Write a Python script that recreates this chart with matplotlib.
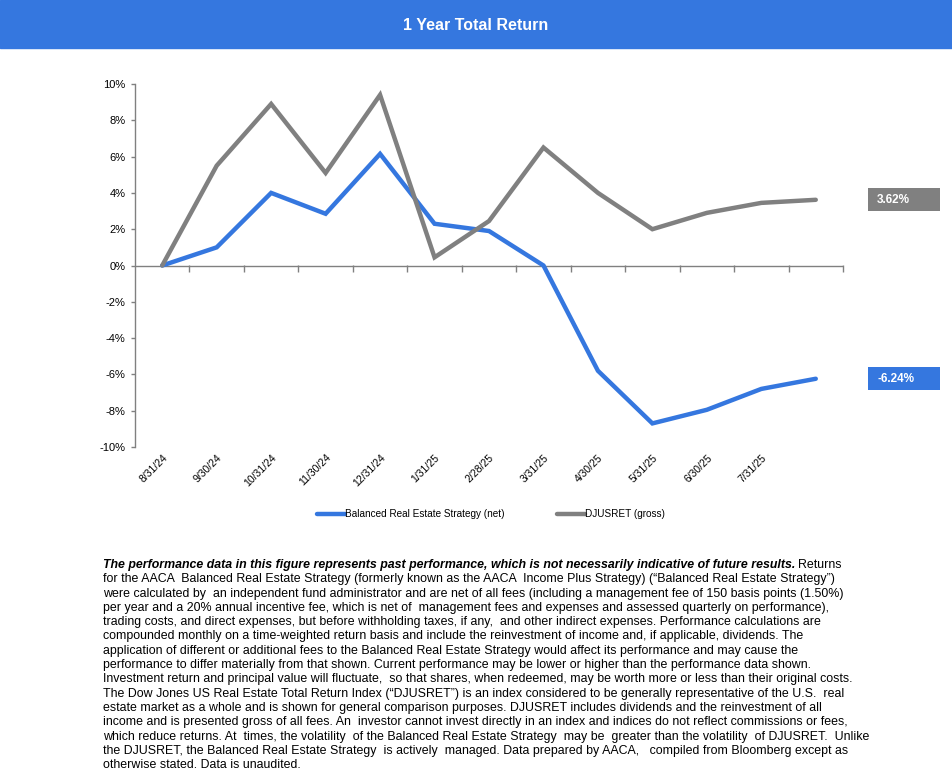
import matplotlib
matplotlib.use('Agg')
import matplotlib.pyplot as plt
from matplotlib.patches import Rectangle

dates = ['8/31/24', '9/30/24', '10/31/24', '11/30/24', '12/31/24', '1/31/25',
         '2/28/25', '3/31/25', '4/30/25', '5/31/25', '6/30/25', '7/31/25', '']
strategy = [0.0, 1.0, 4.0, 2.85, 6.15, 2.3, 1.9, 0.0, -5.8, -8.7, -7.95, -6.8, -6.24]
djusret = [0.0, 5.5, 8.9, 5.1, 9.4, 0.45, 2.45, 6.5, 4.0, 2.0, 2.9, 3.45, 3.62]
yticks = list(range(-10, 11, 2))

blue = '#3577DF'
gray = '#808080'
plt.rcParams['font.family'] = ['Liberation Sans', 'DejaVu Sans']

W, H = 952, 780
fig = plt.figure(figsize=(W / 100, H / 100), dpi=100)

# title bar
fig.add_artist(Rectangle((0, 1 - 48 / H), 1, 48 / H, transform=fig.transFigure,
                         color=blue, zorder=0))
fig.text(0.5, 1 - 25 / H, '1 Year Total Return', color='white', fontsize=11.5,
         fontweight='bold', ha='center', va='center')

# plot area: x 135..843 px, y 84..447 px
ax = fig.add_axes([135 / W, 1 - 447 / H, 708 / W, 363 / H])
x = list(range(len(dates)))
l1, = ax.plot(x, strategy, color=blue, lw=3.2, solid_capstyle='round',
              solid_joinstyle='miter', zorder=2)
l2, = ax.plot(x, djusret, color=gray, lw=3.2, solid_capstyle='round',
              solid_joinstyle='miter', zorder=3)
ax.set_xlim(-0.5, len(dates) - 0.5)
ax.set_ylim(-10, 10)
ax.set_yticks(yticks)
ax.set_yticklabels(['%d%%' % v for v in yticks])
ax.tick_params(axis='y', length=3, width=1, color=gray, pad=4, labelsize=8)
for s in ['top', 'right', 'bottom']:
    ax.spines[s].set_visible(False)
ax.spines['left'].set_color(gray)
ax.spines['left'].set_linewidth(1)

ax.set_xticks(x)
ax.set_xticklabels(dates, rotation=45, ha='right', rotation_mode='anchor',
                   fontsize=7.5)
ax.tick_params(axis='x', length=0, pad=4)

# zero line with category tick marks
ax.axhline(0, color=gray, lw=1, zorder=1)
sec = ax.secondary_xaxis(0.5)
sec.set_xticks([i + 0.5 for i in x])
sec.set_xticklabels([])
sec.tick_params(axis='x', length=5, width=1, color=gray, direction='in',
                labeltop=False, labelbottom=False)
for s in sec.spines.values():
    s.set_visible(False)

# end value labels
trans = ax.get_yaxis_transform()
for val, col in [(djusret[-1], gray), (strategy[-1], blue)]:
    ax.add_patch(Rectangle((733 / 708, val - 0.64), 72 / 708, 1.28,
                           transform=trans, fc=col, ec='none', clip_on=False))
    ax.text(742 / 708, val, '%.2f%%' % val, transform=trans, va='center',
            ha='left', color='white', fontsize=8.5, fontweight='bold',
            clip_on=False)

# legend
fig.legend([l1, l2], ['Balanced Real Estate Strategy (net)', 'DJUSRET (gross)'],
           loc='center', bbox_to_anchor=(491 / W, 1 - 514 / H), ncol=2,
           frameon=False, fontsize=7.2, handlelength=2.8, handletextpad=0.0,
           columnspacing=5.2)

# footnote
lines = [
    'for the AACA  Balanced Real Estate Strategy (formerly known as the AACA  Income Plus Strategy) (\u201cBalanced Real Estate Strategy\u201d)',
    'were calculated by  an independent fund administrator and are net of all fees (including a management fee of 150 basis points (1.50%)',
    'per year and a 20% annual incentive fee, which is net of  management fees and expenses and assessed quarterly on performance),',
    'trading costs, and direct expenses, but before withholding taxes, if any,  and other indirect expenses. Performance calculations are',
    'compounded monthly on a time-weighted return basis and include the reinvestment of income and, if applicable, dividends. The',
    'application of different or additional fees to the Balanced Real Estate Strategy would affect its performance and may cause the',
    'performance to differ materially from that shown. Current performance may be lower or higher than the performance data shown.',
    'Investment return and principal value will fluctuate,  so that shares, when redeemed, may be worth more or less than their original costs.',
    'The Dow Jones US Real Estate Total Return Index (\u201cDJUSRET\u201d) is an index considered to be generally representative of the U.S.  real',
    'estate market as a whole and is shown for general comparison purposes. DJUSRET includes dividends and the reinvestment of all',
    'income and is presented gross of all fees. An  investor cannot invest directly in an index and indices do not reflect commissions or fees,',
    'which reduce returns. At  times, the volatility  of the Balanced Real Estate Strategy  may be  greater than the volatility  of DJUSRET.  Unlike',
    'the DJUSRET, the Balanced Real Estate Strategy  is actively  managed. Data prepared by AACA,   compiled from Bloomberg except as',
    'otherwise stated. Data is unaudited.',
]
x0 = 103 / W
y0 = 565
step = 14.3
fs = 8.9
bold = fig.text(x0, 1 - y0 / H,
                'The performance data in this figure represents past performance, which is not necessarily indicative of future results.',
                fontsize=fs, fontweight='bold', style='italic', va='center')
fig.canvas.draw()
bb = bold.get_window_extent()
fig.text(bb.x1 / W + 3 / W, 1 - y0 / H, 'Returns', fontsize=fs, va='center')
for i, t in enumerate(lines):
    fig.text(x0, 1 - (y0 + step * (i + 1)) / H, t, fontsize=fs, va='center')

fig.savefig('out.png')
